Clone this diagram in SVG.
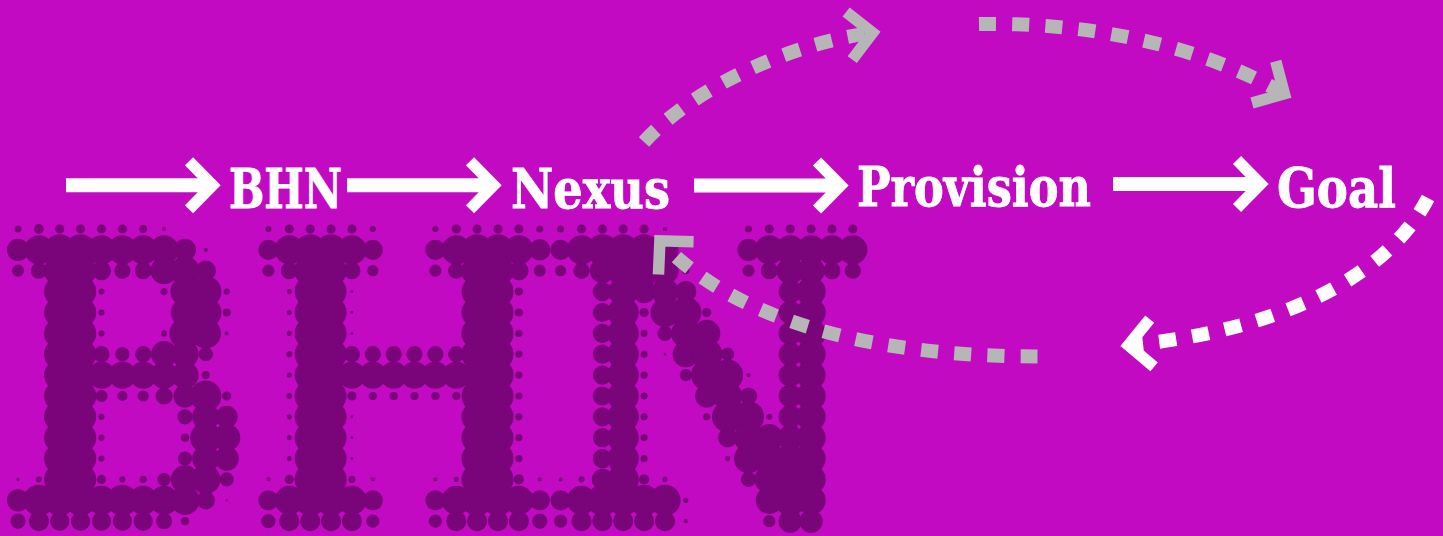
<svg xmlns="http://www.w3.org/2000/svg" width="1443" height="536" viewBox="0 0 1443 536">
<style>
.dots{fill:#7a057a;stroke:#7a057a;stroke-width:1.2}
.lbl{font-family:"DejaVu Serif","Liberation Serif",serif;font-weight:700;font-size:55px;fill:#fff;stroke:#fff;stroke-width:0.9}
.w,.g{fill:none;stroke-width:14}
.w{stroke:#fff}.g{stroke:#b6b6b6}
.d{stroke-dasharray:17 16.2}
.hw,.hg{fill:none;stroke-width:11.5;stroke-miterlimit:10}
.hw{stroke:#fff}.hg{stroke:#b6b6b6}
</style>
<defs>
<marker id="mw" markerUnits="userSpaceOnUse" viewBox="0 0 50 70" markerWidth="50" markerHeight="70" refX="30" refY="35" orient="auto" overflow="visible"><path class="hw" d="M8 11L31.6 35L8 59"/></marker>
<marker id="mg" markerUnits="userSpaceOnUse" viewBox="0 0 50 70" markerWidth="50" markerHeight="70" refX="30" refY="35" orient="auto" overflow="visible"><path class="hg" d="M8 11L31.6 35L8 59"/></marker>
</defs>
<rect width="1443" height="536" fill="#c20ac2"/>
<g id="watermark" class="dots">
<g id="letter-B">
<g transform="translate(0 229)"><circle cx="18" r="3"/><circle cx="38.9" r="4.3"/><circle cx="59.7" r="4"/><circle cx="80.6" r="4"/><circle cx="101.5" r="4"/><circle cx="122.4" r="4"/><circle cx="143.2" r="3.3"/><circle cx="164.1" r="1.5"/></g>
<g transform="translate(0 249.9)"><circle cx="18" r="10.5"/><circle cx="38.9" r="14"/><circle cx="59.7" r="15"/><circle cx="80.6" r="15"/><circle cx="101.5" r="14"/><circle cx="122.4" r="14"/><circle cx="143.2" r="14"/><circle cx="164.1" r="14"/><circle cx="185" r="10.5"/><circle cx="205.8" r="1.5"/></g>
<g transform="translate(0 270.7)"><circle cx="18" r="5.5"/><circle cx="38.9" r="7.5"/><circle cx="59.7" r="15"/><circle cx="80.6" r="15"/><circle cx="101.5" r="9"/><circle cx="122.4" r="7.5"/><circle cx="143.2" r="8"/><circle cx="164.1" r="13"/><circle cx="185" r="14"/><circle cx="205.8" r="9.5"/></g>
<g transform="translate(0 291.6)"><circle cx="59.7" r="15"/><circle cx="80.6" r="15"/><circle cx="101.5" r="2.5"/><circle cx="164.1" r="3"/><circle cx="185" r="14"/><circle cx="205.8" r="15"/><circle cx="226.7" r="2.5"/></g>
<g transform="translate(0 312.5)"><circle cx="59.7" r="15"/><circle cx="80.6" r="15"/><circle cx="101.5" r="2.5"/><circle cx="185" r="13.5"/><circle cx="205.8" r="15"/><circle cx="226.7" r="3.5"/></g>
<g transform="translate(0 333.4)"><circle cx="59.7" r="15"/><circle cx="80.6" r="15"/><circle cx="101.5" r="2.5"/><circle cx="164.1" r="2.5"/><circle cx="185" r="15"/><circle cx="205.8" r="14.5"/><circle cx="226.7" r="1.5"/></g>
<g transform="translate(0 354.2)"><circle cx="59.7" r="15"/><circle cx="80.6" r="15"/><circle cx="101.5" r="7.5"/><circle cx="122.4" r="6.5"/><circle cx="143.2" r="7.5"/><circle cx="164.1" r="12.5"/><circle cx="185" r="13"/><circle cx="205.8" r="6.5"/></g>
<g transform="translate(0 375.1)"><circle cx="59.7" r="15"/><circle cx="80.6" r="15"/><circle cx="101.5" r="13"/><circle cx="122.4" r="13"/><circle cx="143.2" r="13"/><circle cx="164.1" r="13"/><circle cx="185" r="13"/><circle cx="205.8" r="3.5"/></g>
<g transform="translate(0 396)"><circle cx="59.7" r="15"/><circle cx="80.6" r="15"/><circle cx="101.5" r="5.5"/><circle cx="122.4" r="4.5"/><circle cx="143.2" r="5"/><circle cx="164.1" r="8"/><circle cx="185" r="11"/><circle cx="205.8" r="15"/><circle cx="226.7" r="4"/></g>
<g transform="translate(0 416.8)"><circle cx="59.7" r="15"/><circle cx="80.6" r="15"/><circle cx="101.5" r="2.5"/><circle cx="185" r="7"/><circle cx="205.8" r="13"/><circle cx="226.7" r="10.5"/></g>
<g transform="translate(0 437.7)"><circle cx="59.7" r="15"/><circle cx="80.6" r="15"/><circle cx="101.5" r="2.5"/><circle cx="185" r="3.5"/><circle cx="205.8" r="15"/><circle cx="226.7" r="13"/></g>
<g transform="translate(0 458.6)"><circle cx="59.7" r="15"/><circle cx="80.6" r="15"/><circle cx="101.5" r="2.5"/><circle cx="185" r="6.5"/><circle cx="205.8" r="13"/><circle cx="226.7" r="11.5"/></g>
<g transform="translate(0 479.4)"><circle cx="18" r="1"/><circle cx="38.9" r="2.5"/><circle cx="59.7" r="15"/><circle cx="80.6" r="15"/><circle cx="101.5" r="4"/><circle cx="122.4" r="2.5"/><circle cx="143.2" r="3"/><circle cx="164.1" r="6"/><circle cx="185" r="13.5"/><circle cx="205.8" r="14"/><circle cx="226.7" r="6.5"/></g>
<g transform="translate(0 500.3)"><circle cx="18" r="10.5"/><circle cx="38.9" r="15"/><circle cx="59.7" r="15"/><circle cx="80.6" r="15"/><circle cx="101.5" r="14"/><circle cx="122.4" r="15"/><circle cx="143.2" r="14"/><circle cx="164.1" r="14"/><circle cx="185" r="14"/><circle cx="205.8" r="8.5"/><circle cx="226.7" r="0.5"/></g>
<g transform="translate(0 521.2)"><circle cx="18" r="7"/><circle cx="38.9" r="9.5"/><circle cx="59.7" r="9"/><circle cx="80.6" r="9"/><circle cx="101.5" r="9"/><circle cx="122.4" r="9"/><circle cx="143.2" r="9"/><circle cx="164.1" r="7.5"/><circle cx="185" r="3.5"/></g>
</g>
<g id="letter-H">
<g transform="translate(0 229)"><circle cx="268.4" r="2.5"/><circle cx="289.3" r="4"/><circle cx="310.2" r="4"/><circle cx="331" r="4"/><circle cx="351.9" r="4"/><circle cx="372.8" r="2.5"/><circle cx="435.4" r="2.5"/><circle cx="456.3" r="4"/><circle cx="477.1" r="4"/><circle cx="498" r="4"/><circle cx="518.9" r="4"/><circle cx="539.8" r="3"/></g>
<g transform="translate(0 249.9)"><circle cx="268.4" r="9.5"/><circle cx="289.3" r="14"/><circle cx="310.2" r="15"/><circle cx="331" r="15"/><circle cx="351.9" r="14"/><circle cx="372.8" r="9.5"/><circle cx="435.4" r="9.5"/><circle cx="456.3" r="14"/><circle cx="477.1" r="15"/><circle cx="498" r="15"/><circle cx="518.9" r="14"/><circle cx="539.8" r="10"/></g>
<g transform="translate(0 270.7)"><circle cx="268.4" r="5.5"/><circle cx="289.3" r="8"/><circle cx="310.2" r="15"/><circle cx="331" r="15"/><circle cx="351.9" r="8"/><circle cx="372.8" r="5"/><circle cx="435.4" r="5.5"/><circle cx="456.3" r="7.5"/><circle cx="477.1" r="15"/><circle cx="498" r="15"/><circle cx="518.9" r="9"/><circle cx="539.8" r="5.5"/></g>
<g transform="translate(0 291.6)"><circle cx="289.3" r="2"/><circle cx="310.2" r="15"/><circle cx="331" r="15"/><circle cx="351.9" r="1"/><circle cx="477.1" r="15"/><circle cx="498" r="15"/><circle cx="518.9" r="3.5"/></g>
<g transform="translate(0 312.5)"><circle cx="289.3" r="2"/><circle cx="310.2" r="15"/><circle cx="331" r="15"/><circle cx="351.9" r="1"/><circle cx="477.1" r="15"/><circle cx="498" r="15"/><circle cx="518.9" r="3.5"/></g>
<g transform="translate(0 333.4)"><circle cx="289.3" r="2"/><circle cx="310.2" r="15"/><circle cx="331" r="15"/><circle cx="351.9" r="1"/><circle cx="477.1" r="15"/><circle cx="498" r="15"/><circle cx="518.9" r="3"/></g>
<g transform="translate(0 354.2)"><circle cx="289.3" r="2.5"/><circle cx="310.2" r="15"/><circle cx="331" r="15"/><circle cx="351.9" r="7.5"/><circle cx="372.8" r="7.5"/><circle cx="393.7" r="7.5"/><circle cx="414.5" r="7.5"/><circle cx="435.4" r="7.5"/><circle cx="456.3" r="7.5"/><circle cx="477.1" r="15"/><circle cx="498" r="15"/><circle cx="518.9" r="3"/></g>
<g transform="translate(0 375.1)"><circle cx="289.3" r="2"/><circle cx="310.2" r="15"/><circle cx="331" r="15"/><circle cx="351.9" r="13"/><circle cx="372.8" r="13"/><circle cx="393.7" r="13"/><circle cx="414.5" r="13"/><circle cx="435.4" r="13"/><circle cx="456.3" r="13"/><circle cx="477.1" r="15"/><circle cx="498" r="15"/><circle cx="518.9" r="3"/></g>
<g transform="translate(0 396)"><circle cx="289.3" r="2.5"/><circle cx="310.2" r="15"/><circle cx="331" r="15"/><circle cx="351.9" r="4"/><circle cx="372.8" r="3.5"/><circle cx="393.7" r="3.5"/><circle cx="414.5" r="3.5"/><circle cx="435.4" r="3.5"/><circle cx="456.3" r="3.5"/><circle cx="477.1" r="15"/><circle cx="498" r="15"/><circle cx="518.9" r="3"/></g>
<g transform="translate(0 416.8)"><circle cx="289.3" r="2"/><circle cx="310.2" r="15"/><circle cx="331" r="15"/><circle cx="351.9" r="1"/><circle cx="477.1" r="15"/><circle cx="498" r="15"/><circle cx="518.9" r="3"/></g>
<g transform="translate(0 437.7)"><circle cx="289.3" r="2"/><circle cx="310.2" r="15"/><circle cx="331" r="15"/><circle cx="351.9" r="1"/><circle cx="477.1" r="15"/><circle cx="498" r="15"/><circle cx="518.9" r="3"/></g>
<g transform="translate(0 458.6)"><circle cx="289.3" r="2"/><circle cx="310.2" r="15"/><circle cx="331" r="15"/><circle cx="351.9" r="1"/><circle cx="477.1" r="15"/><circle cx="498" r="15"/><circle cx="518.9" r="3"/></g>
<g transform="translate(0 479.4)"><circle cx="268.4" r="1.5"/><circle cx="289.3" r="4"/><circle cx="310.2" r="15"/><circle cx="331" r="15"/><circle cx="351.9" r="3"/><circle cx="372.8" r="1.5"/><circle cx="435.4" r="1.5"/><circle cx="456.3" r="2"/><circle cx="477.1" r="15"/><circle cx="498" r="15"/><circle cx="518.9" r="4.5"/><circle cx="539.8" r="1.5"/></g>
<g transform="translate(0 500.3)"><circle cx="268.4" r="9.5"/><circle cx="289.3" r="14"/><circle cx="310.2" r="15"/><circle cx="331" r="15"/><circle cx="351.9" r="14"/><circle cx="372.8" r="9.5"/><circle cx="435.4" r="9.5"/><circle cx="456.3" r="14"/><circle cx="477.1" r="15"/><circle cx="498" r="15"/><circle cx="518.9" r="14"/><circle cx="539.8" r="9.5"/></g>
<g transform="translate(0 521.2)"><circle cx="268.4" r="6.5"/><circle cx="289.3" r="9.5"/><circle cx="310.2" r="9.5"/><circle cx="331" r="9.5"/><circle cx="351.9" r="9.5"/><circle cx="372.8" r="6"/><circle cx="435.4" r="6"/><circle cx="456.3" r="9.5"/><circle cx="477.1" r="9.5"/><circle cx="498" r="9.5"/><circle cx="518.9" r="9.5"/><circle cx="539.8" r="7"/></g>
</g>
<g id="letter-N">
<g transform="translate(0 229)"><circle cx="560.6" r="3"/><circle cx="581.5" r="4"/><circle cx="602.4" r="4"/><circle cx="623.2" r="4"/><circle cx="644.1" r="4"/><circle cx="665" r="1.5"/><circle cx="748.5" r="3"/><circle cx="769.3" r="4"/><circle cx="790.2" r="4"/><circle cx="811.1" r="4"/><circle cx="831.9" r="4"/><circle cx="852.8" r="4"/></g>
<g transform="translate(0 249.9)"><circle cx="560.6" r="9.5"/><circle cx="581.5" r="14"/><circle cx="602.4" r="15"/><circle cx="623.2" r="15"/><circle cx="644.1" r="15"/><circle cx="665" r="13"/><circle cx="748.5" r="10.5"/><circle cx="769.3" r="14"/><circle cx="790.2" r="14"/><circle cx="811.1" r="14"/><circle cx="831.9" r="14"/><circle cx="852.8" r="14"/></g>
<g transform="translate(0 270.7)"><circle cx="560.6" r="5"/><circle cx="581.5" r="7.5"/><circle cx="602.4" r="12"/><circle cx="623.2" r="15"/><circle cx="644.1" r="15"/><circle cx="665" r="13"/><circle cx="685.8" r="3"/><circle cx="748.5" r="5.5"/><circle cx="769.3" r="8"/><circle cx="790.2" r="13"/><circle cx="811.1" r="13"/><circle cx="831.9" r="8"/><circle cx="852.8" r="7.5"/></g>
<g transform="translate(0 291.6)"><circle cx="602.4" r="9"/><circle cx="623.2" r="14"/><circle cx="644.1" r="11"/><circle cx="665" r="13"/><circle cx="685.8" r="10"/><circle cx="790.2" r="11"/><circle cx="811.1" r="14"/></g>
<g transform="translate(0 312.5)"><circle cx="602.4" r="9"/><circle cx="623.2" r="15"/><circle cx="644.1" r="4"/><circle cx="665" r="14"/><circle cx="685.8" r="15"/><circle cx="706.7" r="4"/><circle cx="790.2" r="11"/><circle cx="811.1" r="14"/></g>
<g transform="translate(0 333.4)"><circle cx="602.4" r="9"/><circle cx="623.2" r="15"/><circle cx="644.1" r="3"/><circle cx="665" r="7"/><circle cx="685.8" r="14"/><circle cx="706.7" r="13"/><circle cx="790.2" r="11"/><circle cx="811.1" r="14"/></g>
<g transform="translate(0 354.2)"><circle cx="602.4" r="9"/><circle cx="623.2" r="15"/><circle cx="644.1" r="3"/><circle cx="665" r="0.8"/><circle cx="685.8" r="12.5"/><circle cx="706.7" r="15"/><circle cx="727.6" r="6"/><circle cx="790.2" r="11"/><circle cx="811.1" r="14"/></g>
<g transform="translate(0 375.1)"><circle cx="602.4" r="9"/><circle cx="623.2" r="15"/><circle cx="644.1" r="3"/><circle cx="685.8" r="5.5"/><circle cx="706.7" r="15"/><circle cx="727.6" r="15"/><circle cx="748.5" r="1.5"/><circle cx="790.2" r="11"/><circle cx="811.1" r="14"/></g>
<g transform="translate(0 396)"><circle cx="602.4" r="9"/><circle cx="623.2" r="15"/><circle cx="644.1" r="3"/><circle cx="706.7" r="11"/><circle cx="727.6" r="14"/><circle cx="748.5" r="8"/><circle cx="790.2" r="11"/><circle cx="811.1" r="14"/></g>
<g transform="translate(0 416.8)"><circle cx="602.4" r="9"/><circle cx="623.2" r="15"/><circle cx="644.1" r="3"/><circle cx="706.7" r="3"/><circle cx="727.6" r="15"/><circle cx="748.5" r="15"/><circle cx="769.3" r="2.5"/><circle cx="790.2" r="11"/><circle cx="811.1" r="14"/></g>
<g transform="translate(0 437.7)"><circle cx="602.4" r="9"/><circle cx="623.2" r="15"/><circle cx="644.1" r="3"/><circle cx="727.6" r="9"/><circle cx="748.5" r="14"/><circle cx="769.3" r="13"/><circle cx="790.2" r="12"/><circle cx="811.1" r="14"/></g>
<g transform="translate(0 458.6)"><circle cx="602.4" r="9"/><circle cx="623.2" r="15"/><circle cx="644.1" r="3"/><circle cx="727.6" r="2"/><circle cx="748.5" r="14"/><circle cx="769.3" r="15"/><circle cx="790.2" r="14"/><circle cx="811.1" r="14"/></g>
<g transform="translate(0 479.4)"><circle cx="560.6" r="1.5"/><circle cx="581.5" r="2.5"/><circle cx="602.4" r="10"/><circle cx="623.2" r="15"/><circle cx="644.1" r="4.5"/><circle cx="665" r="2"/><circle cx="748.5" r="7"/><circle cx="769.3" r="14"/><circle cx="790.2" r="15"/><circle cx="811.1" r="14"/></g>
<g transform="translate(0 500.3)"><circle cx="560.6" r="9.5"/><circle cx="581.5" r="14"/><circle cx="602.4" r="15"/><circle cx="623.2" r="15"/><circle cx="644.1" r="15"/><circle cx="665" r="15"/><circle cx="685.8" r="2"/><circle cx="769.3" r="13"/><circle cx="790.2" r="15"/><circle cx="811.1" r="14"/></g>
<g transform="translate(0 521.2)"><circle cx="560.6" r="6"/><circle cx="581.5" r="9.5"/><circle cx="602.4" r="9.5"/><circle cx="623.2" r="9.5"/><circle cx="644.1" r="9.5"/><circle cx="665" r="9.5"/><circle cx="685.8" r="1.5"/><circle cx="769.3" r="5.5"/><circle cx="790.2" r="11"/><circle cx="811.1" r="11"/></g>
</g>
</g>
<g id="connectors">
<path class="w" d="M66 185.3H211" marker-end="url(#mw)"/>
<path class="w" d="M347 185.3H492" marker-end="url(#mw)"/>
<path class="w" d="M694 185.5H839" marker-end="url(#mw)"/>
<path class="w" d="M1113 184H1259" marker-end="url(#mw)"/>
<path class="g d" d="M644 142C695 86 793 43 871 33" marker-end="url(#mg)"/>
<path class="g d" d="M979 24C1085 22 1197 44 1283 93" marker-end="url(#mg)"/>
<path class="w d" d="M1428 198C1377 296 1239 335 1130 345" marker-end="url(#mw)"/>
<path class="g d" d="M1037.5 356.5C902 356.5 745 332 661 242" marker-end="url(#mg)"/>
</g>
<g id="node-bhn"><text class="lbl" x="229" y="208" textLength="113" lengthAdjust="spacingAndGlyphs">BHN</text></g>
<g id="node-nexus"><text class="lbl" x="511" y="208" textLength="159" lengthAdjust="spacingAndGlyphs">Nexus</text></g>
<g id="node-provision"><text class="lbl" x="857" y="205.5" textLength="234" lengthAdjust="spacingAndGlyphs">Provision</text></g>
<g id="node-goal"><text class="lbl" x="1277" y="207" textLength="119" lengthAdjust="spacingAndGlyphs">Goal</text></g>
</svg>
